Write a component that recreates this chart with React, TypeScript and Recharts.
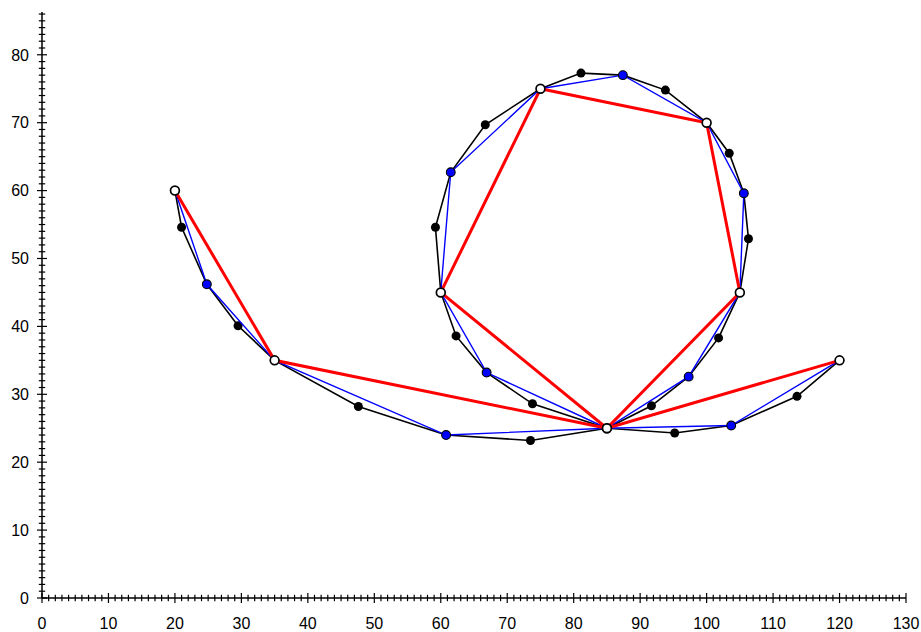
import { ScatterChart, Scatter, XAxis, YAxis } from 'recharts';

// control polygon (white points, red line)
const controlX = [20, 35, 85, 60, 75, 100, 105, 85, 120];
const controlY = [60, 35, 25, 45, 75, 70, 45, 25, 35];

// first subdivision (blue points, inserted between control points)
const blueX = [24.8, 60.8, 66.9, 61.5, 87.4, 105.6, 97.3, 103.7];
const blueY = [46.2, 24.0, 33.2, 62.7, 77.0, 59.6, 32.6, 25.4];

// second subdivision (black points, inserted between blue-polyline points)
const blackX = [21.0, 29.5, 47.6, 73.5, 73.8, 62.3, 59.2, 66.7, 81.1, 93.8, 103.4, 106.3, 101.8, 91.7, 95.2, 113.6];
const blackY = [54.6, 40.1, 28.2, 23.2, 28.6, 38.6, 54.6, 69.7, 77.3, 74.8, 65.5, 52.9, 38.3, 28.3, 24.3, 29.7];

const xLabels = [0, 10, 20, 30, 40, 50, 60, 70, 80, 90, 100, 110, 120, 130];
const yLabels = [0, 10, 20, 30, 40, 50, 60, 70, 80];
const xTicks = Array.from({ length: 131 }, (_, i) => i);
const yTicks = Array.from({ length: 87 }, (_, i) => i);

type Kind = 'white' | 'blue' | 'black';
type Pt = { x: number; y: number; kind: Kind };

const whitePts: Pt[] = controlX.map((x, i) => ({ x, y: controlY[i], kind: 'white' }));
const bluePts: Pt[] = blueX.map((x, i) => ({ x, y: blueY[i], kind: 'blue' }));
const blackPts: Pt[] = blackX.map((x, i) => ({ x, y: blackY[i], kind: 'black' }));

const bluePath: Pt[] = [];
whitePts.forEach((p, i) => {
  bluePath.push(p);
  if (i < bluePts.length) bluePath.push(bluePts[i]);
});
const blackPath: Pt[] = [];
bluePath.forEach((p, i) => {
  blackPath.push(p);
  if (i < blackPts.length) blackPath.push(blackPts[i]);
});

const marker = (kind: Kind) => (props: any) => {
  const { cx, cy, payload } = props;
  if (!payload || payload.kind !== kind) return <g />;
  if (kind === 'black') return <circle cx={cx} cy={cy} r={4.5} fill="#000" />;
  if (kind === 'blue') return <circle cx={cx} cy={cy} r={4.4} fill="#0000ff" stroke="#000" strokeWidth={1.1} />;
  return <circle cx={cx} cy={cy} r={4.4} fill="#fff" stroke="#000" strokeWidth={1.7} />;
};

const XTick = (props: any) => {
  const { x, y, payload } = props;
  const v = payload.value;
  const major = xLabels.includes(v);
  const h = major ? 5 : 3.2;
  return (
    <g>
      <line x1={x} x2={x} y1={y - h} y2={y + h} stroke="#000" strokeWidth={1.2} />
      {major && (
        <text x={x} y={y + 30.5} textAnchor="middle" fontSize={16} fill="#000">
          {v}
        </text>
      )}
    </g>
  );
};

const YTick = (props: any) => {
  const { x, y, payload } = props;
  const v = payload.value;
  const major = yLabels.includes(v);
  const h = major ? 5 : 3.2;
  return (
    <g>
      <line x1={x - h} x2={x + h} y1={y} y2={y} stroke="#000" strokeWidth={1.2} />
      {major && (
        <text x={x - 13} y={y} dy="0.36em" textAnchor="end" fontSize={16} fill="#000">
          {v}
        </text>
      )}
    </g>
  );
};

export default function App() {
  return (
    <div style={{ position: 'absolute', left: 0, top: 0, background: '#fff', fontFamily: '"Liberation Sans", Arial, sans-serif' }}>
      <ScatterChart width={921} height={632} margin={{ top: 12, right: 15, bottom: 0, left: 0 }}>
        <XAxis
          type="number"
          dataKey="x"
          domain={[0, 130]}
          ticks={xTicks}
          interval={0}
          tickSize={0}
          tickMargin={0}
          tick={<XTick />}
          height={34}
          axisLine={{ stroke: '#000', strokeWidth: 1.5 }}
        />
        <YAxis
          type="number"
          dataKey="y"
          domain={[0, 86.3]}
          ticks={yTicks}
          interval={0}
          tickSize={0}
          tickMargin={0}
          tick={<YTick />}
          width={42}
          axisLine={{ stroke: '#000', strokeWidth: 1.5 }}
        />
        <Scatter data={blackPath} line={{ stroke: '#000', strokeWidth: 1.6 }} lineType="joint" shape={marker('black')} isAnimationActive={false} />
        <Scatter data={bluePath} line={{ stroke: '#0000ff', strokeWidth: 1.4 }} lineType="joint" shape={marker('blue')} isAnimationActive={false} />
        <Scatter data={whitePts} line={{ stroke: '#ff0000', strokeWidth: 3 }} lineType="joint" shape={marker('white')} isAnimationActive={false} />
      </ScatterChart>
    </div>
  );
}
